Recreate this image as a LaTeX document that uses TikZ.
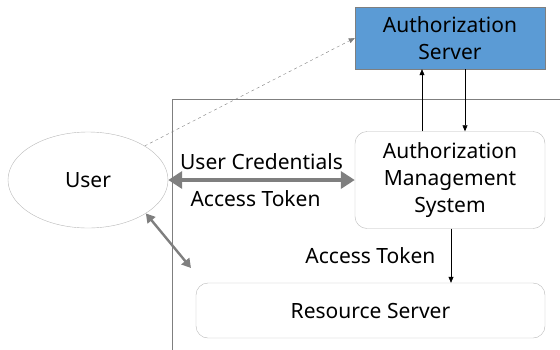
\documentclass[tikz,border=0pt]{standalone}
\usepackage{fontspec}
\setmainfont{Noto Sans}
\usepackage{tikz}
\usetikzlibrary{arrows,arrows.meta}
\usetikzlibrary{shapes,fit,calc,positioning}
\definecolor{serverblue}{RGB}{91,155,213}
\definecolor{edgegray}{RGB}{127,127,127}
\definecolor{softgray}{RGB}{185,185,185}
\tikzset{box/.style={draw=edgegray, rectangle, fill=serverblue, text centered, minimum height=62pt, minimum width=190pt, text width=180pt, align=center}}
\tikzset{rbox/.style={draw=softgray, rectangle, rounded corners=12pt, text centered, align=center}}
\tikzset{line/.style={draw, semithick, -{Triangle[length=6pt,width=5pt]}}}
\tikzset{fat/.style={draw=edgegray, line width=4.5pt, {Triangle[length=14pt,width=17pt]}-{Triangle[length=14pt,width=17pt]}}}
\tikzset{lbl/.style={font=\fontsize{21}{28}\selectfont}}

\begin{document}
\begin{tikzpicture}[x=1pt,y=-1pt,font=\fontsize{21}{27}\selectfont]
				\useasboundingbox (0,0) rectangle (560,349);
				\draw [edgegray] (561,99) -- (172,99) -- (172,350);
				\node [box]                                                       (as)     at (450,38)   {Authorization\\Server};
				\node [draw=softgray, ellipse, minimum width=160pt, minimum height=96pt] (user) at (88,180) {User};
				\node [rbox, minimum width=190pt, minimum height=97pt]             (ams)    at (450,180)  {Authorization\\Management\\System};
				\node [rbox, minimum width=349pt, minimum height=55pt]             (rs)     at (370.5,310.5) {Resource Server};
				\coordinate (rsin) at (191,268);
				%
				\path [line] ([xshift=-28pt]ams.north) -- ([xshift=-28pt]ams.north |- as.south);
				\path [line] ([xshift=15pt]as.south) -- ([xshift=15pt]as.south |- ams.north);
				\path [line] ([xshift=1pt]ams.south) -- ([xshift=1pt]ams.south |- rs.north) node [lbl, midway, left, xshift=-12pt] {Access Token};
				\path [fat] (user.east) -- (ams.west) node [lbl, midway, above, yshift=5pt] {User Credentials} node [lbl, midway, below, xshift=-6pt, yshift=-5pt] {Access Token};
				\path [draw=edgegray, thin, dashed, -{Triangle[length=6pt,width=5pt]}] (user.31) -- (as.west);
				\path [draw=edgegray, line width=2.4pt, {Triangle[length=9pt,width=10pt]}-{Triangle[length=9pt,width=10pt]}] (user.-30) -- (rsin);
\end{tikzpicture}
\end{document}
